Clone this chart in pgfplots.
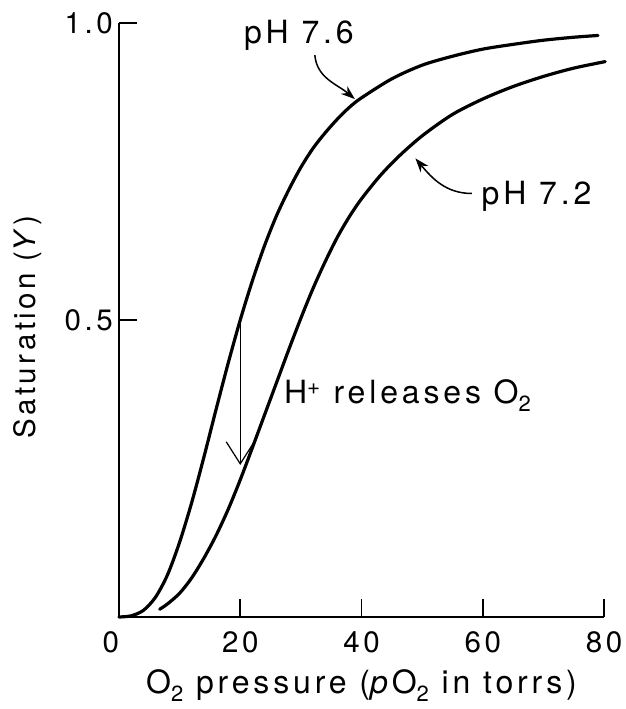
\documentclass[border=0pt]{standalone}
\usepackage{fontspec}
\setmainfont{TeX Gyre Heros}[LetterSpace=12]
\usepackage{pgfplots}
\pgfplotsset{compat=1.18}
\usetikzlibrary{arrows.meta}
\newcommand{\sub}[1]{\raisebox{-0.27em}{\fontsize{22}{22}\selectfont #1}}
\newcommand{\annfont}{\fontsize{32pt}{36pt}\selectfont}

\begin{document}
\fontsize{29.5pt}{34pt}\selectfont
\begin{tikzpicture}
\begin{axis}[
 anchor=origin, at={(0pt,0pt)},
 scale only axis, width=485pt, height=594pt,
 xmin=0, xmax=80, ymin=0, ymax=1,
 enlargelimits=false,
 axis lines=left,
 axis line style={-, line width=1.8pt},
 tick style={line width=1.8pt, black},
 major tick length=18pt,
 tick align=inside,
 xtick={0,20,40,60,80},
 xticklabels={\makebox[0pt][r]{0},20,40,60,80},
 ytick={0.5,1},
 yticklabels={0.5,1.0},
 /pgf/number format/assume math mode=true,
 xticklabel style={anchor=base, yshift=-35pt},
 yticklabel style={anchor=east, inner sep=0pt, xshift=-6pt},
 xlabel={\annfont O\sub{2} pressure (\textit{p}O\sub{2} in torrs)},
 ylabel={Saturation (\textit{Y})},
 every axis x label/.style={at={(rel axis cs:0.5,0)}, anchor=base, yshift=-76pt},
 every axis y label/.style={at={(rel axis cs:0,0.488)}, xshift=-91pt, rotate=90, anchor=center},
 clip=false,
]
% pH 7.6
\addplot[line width=3.2pt, smooth, line cap=round] coordinates {
(0,0) (2,0.002) (4,0.011) (6,0.033) (8,0.071) (10,0.126) (12,0.193) (14,0.269)
(16,0.349) (18,0.427) (20,0.500) (22,0.566) (24,0.625) (26,0.676) (28,0.719)
(30,0.757) (32,0.789) (34,0.815) (36,0.838) (38,0.858) (40,0.874) (45,0.906)
(50,0.929) (55,0.944) (60,0.956) (65,0.964) (70,0.971) (75,0.976) (79,0.979)
};
% pH 7.2
\addplot[line width=3.2pt, smooth, line cap=round] coordinates {
(6.7,0.013) (8,0.022) (10,0.040) (12,0.066) (14,0.099) (16,0.137) (18,0.181)
(20,0.231) (22,0.285) (24,0.340) (26,0.395) (28,0.450) (30,0.503) (32,0.553)
(34,0.598) (36,0.639) (38,0.674) (40,0.704) (43,0.742) (46,0.774) (50,0.810)
(55,0.846) (60,0.872) (65,0.893) (70,0.910) (75,0.924) (80.2,0.935)
};
\node[anchor=base west, inner sep=0pt, font=\annfont] at (axis cs:20.6,0.966) {pH 7.6};
\draw[line width=1.5pt, -{Stealth[length=14pt,width=10pt]}] (axis cs:32.3,0.946) to[out=-85,in=140] (axis cs:38.9,0.872);
\node[anchor=base west, inner sep=0pt, font=\annfont] at (axis cs:59.8,0.695) {pH 7.2};
\draw[line width=1.5pt, -{Stealth[length=14pt,width=10pt]}] (axis cs:58.2,0.713) to[out=180,in=-50] (axis cs:48.9,0.772);
\node[anchor=base west, inner sep=0pt, font=\annfont] at (axis cs:27.2,0.360) {H\textsuperscript{+} releases O\sub{2}};
\draw[line width=1pt, -{Straight Barb[length=22pt,width=28pt,line width=1.2pt]}] (axis cs:20,0.497) -- (axis cs:20,0.256);
\end{axis}
\pgfresetboundingbox
\path[use as bounding box] (-119pt,-92pt) rectangle (507pt,617pt);
\end{tikzpicture}
\end{document}
